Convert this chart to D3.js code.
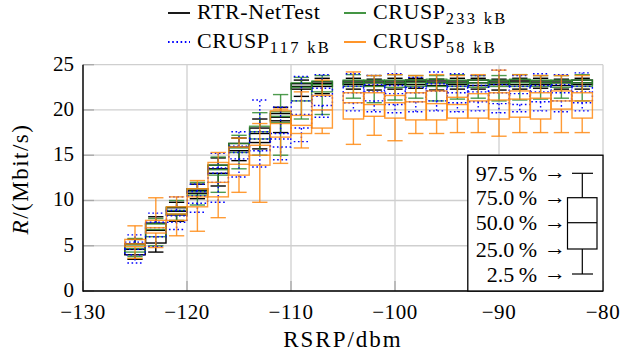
<!DOCTYPE html>
<html>
<head>
<meta charset="utf-8">
<script src="https://cdn.jsdelivr.net/npm/d3@7"></script>
<style>
	body { margin: 0; background: #fff; }
</style>
</head>
<body>
<script>
// RSRP bins (box centres)
const rsrp = [-125, -123, -121, -119, -117, -115, -113, -111, -109, -107,
	-104, -102, -100, -98, -96, -94, -92, -90, -88, -86, -84, -82];

// [2.5 %, 25 %, 50 %, 75 %, 97.5 %] per bin, Mbit/s
const rtrStats = [
	[3.5, 4.0, 4.6, 5.2, 5.7], [4.3, 5.3, 6.7, 7.5, 8.2], [7.7, 8.4, 8.8, 9.2, 9.8],
	[10.2, 10.8, 11.1, 11.3, 11.8], [11.6, 13.0, 13.5, 13.9, 14.7], [14.4, 15.5, 15.9, 16.3, 16.9],
	[15.7, 16.4, 17.4, 18.0, 19.0], [17.5, 18.8, 19.2, 19.6, 20.3], [21.5, 22.3, 22.6, 22.9, 23.3],
	[21.8, 22.6, 22.9, 23.1, 23.5], [22.3, 22.8, 23.0, 23.2, 23.5], [22.2, 22.7, 23.0, 23.2, 23.4],
	[22.3, 22.8, 23.0, 23.2, 23.5], [22.4, 22.8, 23.1, 23.3, 23.5], [22.2, 22.7, 23.0, 23.2, 23.4],
	[22.3, 22.8, 23.0, 23.2, 23.5], [22.3, 22.7, 23.0, 23.3, 23.5], [22.2, 22.8, 23.0, 23.2, 23.4],
	[22.3, 22.8, 23.1, 23.3, 23.5], [22.4, 22.8, 23.0, 23.2, 23.5], [22.3, 22.7, 23.0, 23.2, 23.4],
	[22.3, 22.8, 23.0, 23.3, 23.5]
];
const crusp233Stats = [
	[3.8, 4.3, 4.7, 5.1, 5.8], [5.0, 6.0, 6.8, 7.4, 8.0], [7.8, 8.5, 8.9, 9.3, 10.0],
	[9.5, 10.6, 11.0, 11.3, 12.0], [10.9, 12.8, 13.4, 13.9, 14.8], [13.5, 15.3, 15.8, 16.3, 17.2],
	[15.0, 16.8, 17.6, 18.2, 19.7], [15.0, 18.6, 19.3, 19.8, 21.7], [19.0, 21.0, 22.5, 23.0, 23.6],
	[19.5, 22.0, 22.8, 23.2, 23.8], [21.3, 22.6, 23.0, 23.3, 23.9], [20.8, 22.6, 23.0, 23.3, 23.8],
	[21.1, 22.5, 23.0, 23.3, 23.9], [21.3, 22.6, 23.0, 23.3, 23.8], [21.0, 22.6, 23.0, 23.4, 23.8],
	[21.2, 22.6, 23.0, 23.3, 23.9], [21.3, 22.5, 23.0, 23.3, 23.8], [21.0, 22.6, 23.0, 23.3, 23.8],
	[21.1, 22.6, 23.0, 23.4, 23.9], [21.2, 22.6, 23.0, 23.3, 23.8], [21.3, 22.5, 23.0, 23.3, 23.8],
	[21.0, 22.6, 23.0, 23.3, 23.9]
];
const crusp117Stats = [
	[3.1, 4.0, 4.6, 5.4, 6.2], [4.9, 6.0, 7.0, 7.6, 8.6], [6.8, 7.6, 8.3, 8.9, 10.4],
	[8.7, 9.7, 10.5, 11.0, 11.8], [9.8, 12.0, 13.0, 13.6, 15.2], [12.6, 14.6, 15.3, 16.0, 17.6],
	[13.7, 15.5, 16.8, 17.6, 21.1], [14.5, 15.9, 16.8, 17.4, 20.3], [16.5, 18.0, 19.5, 21.0, 23.7],
	[19.2, 20.5, 21.5, 22.4, 23.9], [19.9, 20.8, 21.9, 22.6, 24.0], [19.8, 21.0, 22.0, 22.8, 23.8],
	[19.7, 20.6, 21.8, 22.7, 24.0], [19.8, 20.9, 21.9, 22.5, 23.6], [19.9, 21.0, 22.1, 22.9, 24.2],
	[19.8, 20.8, 21.9, 22.6, 24.0], [19.9, 20.9, 22.0, 22.7, 23.8], [19.7, 20.7, 21.9, 22.8, 24.4],
	[19.8, 20.6, 21.8, 22.6, 23.8], [19.9, 20.9, 22.0, 22.7, 24.0], [19.8, 21.0, 21.9, 22.8, 23.9],
	[19.9, 20.8, 22.0, 22.6, 24.1]
];
const crusp58Stats = [
	[3.6, 4.9, 5.2, 5.7, 7.2], [4.8, 6.4, 7.0, 7.8, 10.3], [6.1, 7.8, 8.5, 9.3, 10.4],
	[6.6, 9.3, 10.4, 11.3, 12.2], [8.1, 10.4, 12.0, 14.2, 15.3], [10.9, 12.8, 14.0, 15.9, 16.9],
	[9.8, 13.9, 15.0, 16.1, 18.5], [14.1, 17.0, 18.5, 19.9, 20.1], [15.8, 17.4, 18.3, 19.4, 22.0],
	[17.4, 18.0, 20.0, 21.6, 23.3], [16.2, 19.0, 20.8, 21.9, 24.2], [17.2, 19.3, 20.6, 21.9, 23.8],
	[16.6, 19.1, 20.8, 21.6, 23.9], [17.4, 18.9, 20.9, 21.9, 23.8], [17.4, 18.9, 20.7, 22.1, 23.9],
	[17.5, 19.1, 20.6, 21.4, 23.8], [17.5, 19.1, 21.0, 21.8, 23.9], [17.1, 19.0, 21.1, 21.9, 24.4],
	[17.5, 19.2, 21.2, 22.1, 23.9], [17.5, 19.0, 21.3, 21.9, 23.8], [17.5, 20.1, 21.0, 22.1, 23.8],
	[17.5, 19.1, 21.0, 21.9, 23.8]
];

const xTicks = [-130, -120, -110, -100, -90, -80];
const yTicks = [0, 5, 10, 15, 20, 25];
const quantileLabels = ["97.5", "75.0", "50.0", "25.0", "2.5"];

const series = [
	{name: "RTR-NetTest", sub: "", stats: rtrStats, color: "#000000", dash: null, opacity: 1},
	{name: "CRUSP", sub: "233", stats: crusp233Stats, color: "#2f8a2f", dash: null, opacity: 0.85},
	{name: "CRUSP", sub: "117", stats: crusp117Stats, color: "#0000ff", dash: "1.6,2.6", opacity: 1},
	{name: "CRUSP", sub: "58", stats: crusp58Stats, color: "#ff8a12", dash: null, opacity: 0.85}
];

const FONT = "'Times New Roman', Tinos, 'Nimbus Roman', FreeSerif, serif";
const width = 623;
const height = 358;

const svg = d3.select("body")
	.append("svg")
	.attr("width", width)
	.attr("height", height);

const x = d3.scaleLinear().domain([-130, -80]).range([83, 603]);
const y = d3.scaleLinear().domain([0, 25]).range([291, 64.7]);

// grid
const grid = svg.append("g").attr("stroke", "#cfcfcf").attr("stroke-width", 1.3);
grid.selectAll(".gx")
	.data(xTicks)
	.enter()
	.append("line")
	.attr("x1", function(d) { return x(d); })
	.attr("x2", function(d) { return x(d); })
	.attr("y1", y(0))
	.attr("y2", y(25));
grid.selectAll(".gy")
	.data(yTicks)
	.enter()
	.append("line")
	.attr("x1", x(-130))
	.attr("x2", x(-80))
	.attr("y1", function(d) { return y(d); })
	.attr("y2", function(d) { return y(d); });

// tick marks (inside)
const ticks = svg.append("g").attr("stroke", "#a8a8a8").attr("stroke-width", 1.3);
ticks.selectAll(".tx")
	.data(xTicks)
	.enter()
	.append("line")
	.attr("x1", function(d) { return x(d); })
	.attr("x2", function(d) { return x(d); })
	.attr("y1", y(0))
	.attr("y2", y(0) - 10);
ticks.selectAll(".ty")
	.data(yTicks)
	.enter()
	.append("line")
	.attr("x1", x(-130))
	.attr("x2", x(-130) + 11)
	.attr("y1", function(d) { return y(d); })
	.attr("y2", function(d) { return y(d); });

// box plots, all series share the bin position
const half = (x(-124) - x(-125)) * 0.98;
const cap = half * 0.75;

series.forEach(function(s) {
	const g = svg.append("g")
		.attr("fill", "none")
		.attr("stroke", s.color)
		.attr("stroke-width", 1.4)
		.attr("stroke-opacity", s.opacity)
		.attr("stroke-dasharray", s.dash);

	const box = g.selectAll(".box")
		.data(s.stats.map(function(v, i) { return {pos: rsrp[i], v: v}; }))
		.enter()
		.append("g")
		.attr("transform", function(d) { return "translate(" + x(d.pos) + ",0)"; });

	box.append("rect")
		.attr("x", -half)
		.attr("width", 2 * half)
		.attr("y", function(d) { return y(d.v[3]); })
		.attr("height", function(d) { return y(d.v[1]) - y(d.v[3]); });
	box.append("line")
		.attr("x1", -half).attr("x2", half)
		.attr("y1", function(d) { return y(d.v[2]); })
		.attr("y2", function(d) { return y(d.v[2]); });
	box.append("line")
		.attr("x1", 0).attr("x2", 0)
		.attr("y1", function(d) { return y(d.v[3]); })
		.attr("y2", function(d) { return y(d.v[4]); });
	box.append("line")
		.attr("x1", 0).attr("x2", 0)
		.attr("y1", function(d) { return y(d.v[1]); })
		.attr("y2", function(d) { return y(d.v[0]); });
	box.append("line")
		.attr("x1", -cap).attr("x2", cap)
		.attr("y1", function(d) { return y(d.v[4]); })
		.attr("y2", function(d) { return y(d.v[4]); });
	box.append("line")
		.attr("x1", -cap).attr("x2", cap)
		.attr("y1", function(d) { return y(d.v[0]); })
		.attr("y2", function(d) { return y(d.v[0]); });
});

// axis lines
svg.append("line")
	.attr("x1", x(-130)).attr("x2", x(-130))
	.attr("y1", y(0) + 0.7).attr("y2", y(25))
	.attr("stroke", "#000").attr("stroke-width", 1.4);
svg.append("line")
	.attr("x1", x(-130)).attr("x2", x(-80))
	.attr("y1", y(0)).attr("y2", y(0))
	.attr("stroke", "#000").attr("stroke-width", 1.4);

// tick labels
svg.selectAll(".xl")
	.data(xTicks)
	.enter()
	.append("text")
	.attr("x", function(d) { return x(d); })
	.attr("y", 319)
	.attr("text-anchor", "middle")
	.style("font-family", FONT)
	.style("font-size", "21px")
	.style("letter-spacing", "0.6px")
	.text(function(d) { return "\u2212" + Math.abs(d); });

svg.selectAll(".yl")
	.data(yTicks)
	.enter()
	.append("text")
	.attr("x", 74)
	.attr("y", function(d) { return y(d) + 6; })
	.attr("text-anchor", "end")
	.style("font-family", FONT)
	.style("font-size", "21px")
	.text(function(d) { return d; });

// axis titles
svg.append("text")
	.attr("x", 343)
	.attr("y", 347)
	.attr("text-anchor", "middle")
	.style("font-family", FONT)
	.style("font-size", "23px")
	.style("letter-spacing", "2px")
	.text("RSRP/dbm");

const yTitle = svg.append("text")
	.attr("transform", "translate(28,179) rotate(-90)")
	.attr("text-anchor", "middle")
	.style("font-family", FONT)
	.style("font-size", "23px")
	.style("letter-spacing", "1.5px");
yTitle.append("tspan").style("font-style", "italic").text("R");
yTitle.append("tspan").text("/(Mbit/s)");

// series legend
const legendPos = [[168, 13], [344, 13], [168, 42], [344, 42]];
series.forEach(function(s, i) {
	const p = legendPos[i];
	svg.append("line")
		.attr("x1", p[0]).attr("x2", p[0] + 22)
		.attr("y1", p[1]).attr("y2", p[1])
		.attr("stroke", s.color)
		.attr("stroke-width", 1.8)
		.attr("stroke-dasharray", s.dash);
	const t = svg.append("text")
		.attr("x", p[0] + 29)
		.attr("y", p[1] + 6)
		.style("font-family", FONT)
		.style("font-size", "22px")
		.style("letter-spacing", "0.6px")
		.text(s.name);
	if (s.sub) {
		t.append("tspan")
			.attr("dy", 5)
			.style("font-size", "16.5px")
			.style("letter-spacing", "2.3px")
			.text(s.sub + " kB");
	}
});

// quantile key in the lower right corner
const key = svg.append("g");
key.append("rect")
	.attr("x", x(-93))
	.attr("y", y(15))
	.attr("width", x(-80) - x(-93))
	.attr("height", y(0) - y(15))
	.attr("fill", "#fff")
	.attr("stroke", "#000")
	.attr("stroke-width", 1.3);

const keyY = [173.3, 197.7, 222.7, 249, 274];
key.selectAll(".kl")
	.data(quantileLabels)
	.enter()
	.append("text")
	.attr("x", 537)
	.attr("y", function(d, i) { return keyY[i] + 7.5; })
	.attr("text-anchor", "end")
	.style("font-family", FONT)
	.style("font-size", "22px")
	.text(function(d) { return d + "\u2009%"; });

key.selectAll(".ka")
	.data(quantileLabels)
	.enter()
	.append("text")
	.attr("x", 555)
	.attr("y", function(d, i) { return keyY[i] + 6; })
	.attr("text-anchor", "middle")
	.style("font-family", FONT)
	.style("font-size", "22px")
	.text("\u2192");

const kg = key.append("g").attr("stroke", "#000").attr("stroke-width", 1.2).attr("fill", "none");
kg.append("rect").attr("x", 567.5).attr("y", keyY[1]).attr("width", 29.5).attr("height", keyY[3] - keyY[1]);
kg.append("line").attr("x1", 567.5).attr("x2", 597).attr("y1", keyY[2]).attr("y2", keyY[2]);
kg.append("line").attr("x1", 582.3).attr("x2", 582.3).attr("y1", keyY[0]).attr("y2", keyY[1]);
kg.append("line").attr("x1", 582.3).attr("x2", 582.3).attr("y1", keyY[3]).attr("y2", keyY[4]);
kg.append("line").attr("x1", 572).attr("x2", 593).attr("y1", keyY[0]).attr("y2", keyY[0]);
kg.append("line").attr("x1", 572).attr("x2", 593).attr("y1", keyY[4]).attr("y2", keyY[4]);
</script>
</body>
</html>
